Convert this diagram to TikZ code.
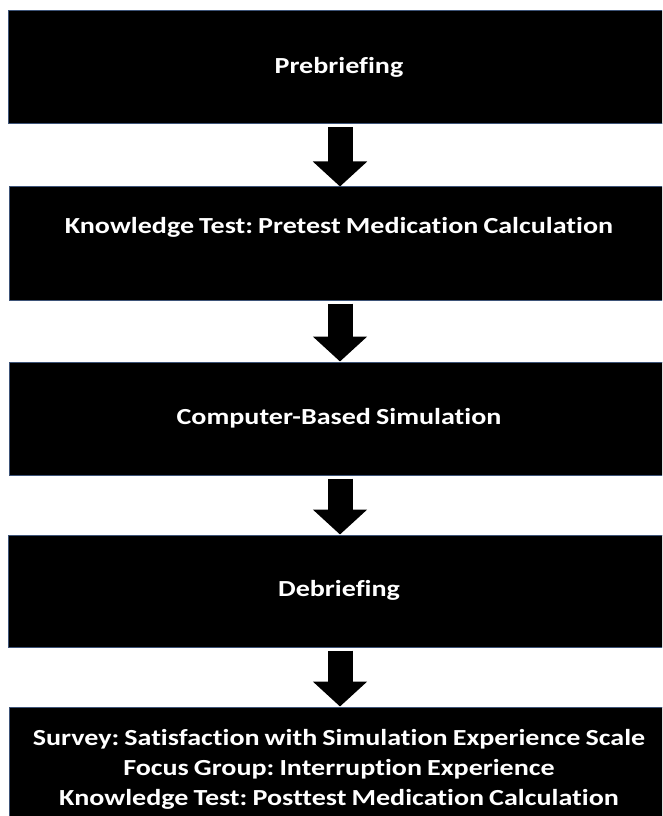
\documentclass[tikz,border=0pt]{standalone}
\usepackage{fontspec}
\setmainfont{Carlito}[FakeStretch=1.22, WordSpace=0.8, Ligatures=NoCommon]
\usepackage{xcolor}
\usepackage{tikz}
\usetikzlibrary{arrows.meta}
\frenchspacing

\definecolor{edgeblue}{RGB}{62,84,120}

\tikzset{
	stage/.style={rectangle, fill=black, draw=edgeblue, line width=0.75pt,
		minimum width=662*0.75pt, inner sep=0pt},
	stagetext/.style={text=white, font=\bfseries\fontsize{17.25pt}{22.5pt}\selectfont, align=center, inner sep=0pt},
	flow/.style={line width=18.75pt, shorten <=2.25pt,
		-{Triangle[width=39.75pt, length=18.75pt]}}
}

\begin{document}
\begin{tikzpicture}[x=0.75pt, y=-0.75pt]
					% Page frame
					\useasboundingbox (0,0) rectangle (662,816);
					\clip (0,0) rectangle (662,816);
					% Create stages
					\node[stage, minimum height=113*0.75pt] (prebrief) at (339,67.5) {};
					\node[stage, minimum height=113*0.75pt] (pretest) at (340,243.5) {};
					\node[stage, minimum height=113*0.75pt] (sim) at (340,418.5) {};
					\node[stage, minimum height=112*0.75pt] (debrief) at (339,591) {};
					\node[stage, minimum height=126*0.75pt] (posttest) at (340,770) {};
					% Add labels to the stages
					\node[stagetext] (prebrieftxt) at (339,67) {Prebriefing};
					\node[stagetext] (pretesttxt) at (339,227) {Knowledge Test: Pretest Medication Calculation};
					\node[stagetext] (simtxt) at (339,418) {Computer-Based Simulation};
					\node[stagetext] (debrieftxt) at (339,590) {Debriefing};
					\node[stagetext] (posttesttxt) at (339,769) {Survey: Satisfaction with Simulation Experience Scale\\
						Focus Group: Interruption Experience\\
						Knowledge Test: Posttest Medication Calculation};
					% Arrows between stages
					\draw[flow] (prebrief.south -| 340,0) -- (pretest.north -| 340,0);
					\draw[flow] (pretest.south -| 340,0) -- (sim.north -| 340,0);
					\draw[flow] (sim.south -| 340,0) -- (debrief.north -| 340,0);
					\draw[flow] (debrief.south -| 340,0) -- (posttest.north -| 340,0);
				\end{tikzpicture}
\end{document}
